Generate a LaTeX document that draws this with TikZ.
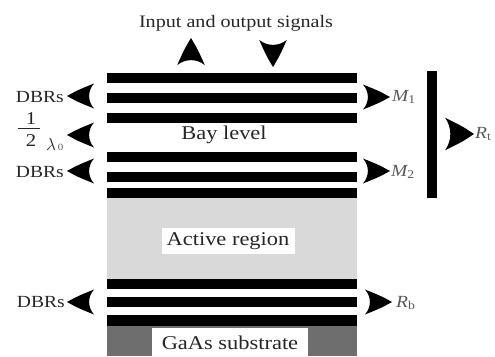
\documentclass[tikz,border=0pt]{standalone}
\usepackage{fontspec}
\setmainfont[FakeStretch=1.15]{Liberation Serif}
\begin{document}
\begin{tikzpicture}[x=1pt,y=-1pt,
  bar/.style={fill=black},
  lbl/.style={inner sep=0pt,text=black!85,font=\fontsize{17}{17}\selectfont},
  frac/.style={inner sep=0pt,text=black!85,font=\fontsize{18}{18}\selectfont},
  big/.style={inner sep=0pt,text=black!85,font=\fontsize{19.5}{19.5}\selectfont},
  mlbl/.style={inner sep=0pt,anchor=west,text=black!65,font=\fontsize{17}{17}\selectfont\itshape},
  ahead/.pic={\fill (0,0) .. controls (-11,-6) .. (-27,-12.5) .. controls (-20.5,-5) and (-20.5,5) .. (-27,12.5) .. controls (-11,6) .. (0,0) -- cycle;}
]
\useasboundingbox (0,0) rectangle (495,356);
% active region and substrate
\fill[gray!30] (107,198) rectangle (357,279);
\fill[black!57] (107,326) rectangle (357,356);
% DBR bars
\foreach \a/\b in {73/83,93/103,113/123,152/162,172/182,188/198,279/289,297/307,315/326}
  \fill[bar] (107,\a) rectangle (357,\b);
% vertical mirror
\fill[bar] (427,71) rectangle (437,198);
% arrowheads
\pic[rotate=180] at (67,96) {ahead};
\pic[rotate=180] at (67,135) {ahead};
\pic[rotate=180] at (67,171) {ahead};
\pic[rotate=180] at (67,302) {ahead};
\pic at (390,97) {ahead};
\pic at (390,171) {ahead};
\pic at (392,302) {ahead};
\pic[xscale=1.07,yscale=1.3] at (474,134) {ahead};
\pic[rotate=90,yscale=1.1] at (191,38) {ahead};
\pic[rotate=-90,yscale=1.1] at (273,67) {ahead};
% labels
\node[lbl,font=\fontsize{17.5}{17.5}\selectfont] (io) at (236,23) {Input and output signals};
\node[lbl,anchor=east] (d1) at (64,97) {DBRs};
\node[frac] (one) at (31,119) {1};
\node[frac] (two) at (31,141) {2};
\draw[black!85,line width=0.9pt] (18,128) -- (40,128);
\node[frac,font=\fontsize{18}{18}\selectfont] (lam) at (51,144) {$\lambda$};
\node[frac,text=black!65,font=\fontsize{9.5}{9.5}\selectfont] (zero) at (60.5,147) {0};
\node[lbl,anchor=east] (d2) at (64,172) {DBRs};
\node[lbl,anchor=east] (d3) at (65,302) {DBRs};
\node[big] (bay) at (224,135) {Bay level};
\node[big,fill=white,minimum width=133pt,minimum height=26pt] (act) at (228,241) {Active region};
\node[big,fill=white,minimum width=156pt,minimum height=30pt,anchor=north] (sub) at (230,328) {GaAs substrate};
\node[mlbl] (m1) at (392,97) {M\textsubscript{\upshape 1}};
\node[mlbl] (m2) at (391,172) {M\textsubscript{\upshape 2}};
\node[mlbl] (rt) at (475,134) {R\textsubscript{\upshape t}};
\node[mlbl] (rb) at (396,303) {R\textsubscript{\upshape b}};
\end{tikzpicture}
\end{document}
